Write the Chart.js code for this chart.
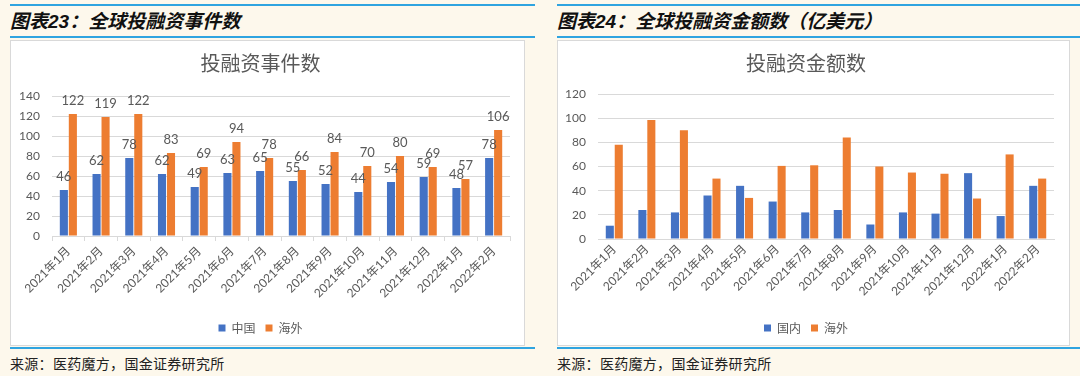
<!DOCTYPE html>
<html>
<head>
<meta charset="utf-8">
<script src="https://cdn.jsdelivr.net/npm/chart.js@4/dist/chart.umd.min.js"></script>
<style>
  html, body { margin: 0; padding: 0; }
  body { width: 1080px; height: 376px; background: #fdf8ec; position: relative; overflow: hidden;
         font-family: "Noto Sans CJK SC", sans-serif; }
  .line { position: absolute; height: 2px; background: #2fa4e0; }
  .head { position: absolute; top: 6px; font-size: 19px; font-weight: bold; font-style: italic; color: #111;
          font-family: "Liberation Sans", "Noto Sans CJK SC", sans-serif; white-space: nowrap; }
  .src { position: absolute; top: 353px; font-size: 14px; color: #222; letter-spacing: 0.3px; white-space: nowrap; }
  .box { position: absolute; top: 40px; height: 306px; background: #fff; border: 1px solid #d9d9d9;
         box-sizing: border-box; }
  .box canvas { display: block; }
</style>
</head>
<body>
<div class="line" style="left:10px; top:4px; width:525px;"></div>
<div class="line" style="left:557px; top:4px; width:523px;"></div>
<div class="head" style="left:10px;">图表23：全球投融资事件数</div>
<div class="head" style="left:557px;">图表24：全球投融资金额数（亿美元）</div>
<div class="line" style="left:10px; top:36px; width:525px;"></div>
<div class="line" style="left:557px; top:36px; width:523px;"></div>

<div class="box" style="left:10px; width:515px;"><canvas id="countChart"></canvas></div>
<div class="box" style="left:557px; width:513px;"><canvas id="amountChart"></canvas></div>

<div class="line" style="left:10px; top:347px; width:525px;"></div>
<div class="line" style="left:557px; top:347px; width:523px;"></div>
<div class="src" style="left:10px;">来源：医药魔方，国金证券研究所</div>
<div class="src" style="left:557px;">来源：医药魔方，国金证券研究所</div>

<script>
// months shared by both charts
const months = ['2021年1月', '2021年2月', '2021年3月', '2021年4月', '2021年5月', '2021年6月', '2021年7月',
    '2021年8月', '2021年9月', '2021年10月', '2021年11月', '2021年12月', '2022年1月', '2022年2月'];

// 图表23 投融资事件数
const countChina = [46, 62, 78, 62, 49, 63, 65, 55, 52, 44, 54, 59, 48, 78];
const countOverseas = [122, 119, 122, 83, 69, 94, 78, 66, 84, 70, 80, 69, 57, 106];
const countTicks = [0, 20, 40, 60, 80, 100, 120, 140];

// 图表24 投融资金额数（亿美元）
const amountDomestic = [11, 24, 22, 36, 44, 31, 22, 24, 12, 22, 21, 54.5, 19, 44];
const amountOverseas = [78, 98.5, 90, 50, 34, 60.5, 61, 84, 60, 55, 54, 33.5, 70, 50];
const amountTicks = [0, 20, 40, 60, 80, 100, 120];

const BLUE = '#4472c4';
const ORANGE = '#ed7d31';
const GREY = '#595959';
const GRID = '#d9d9d9';
const NUM_FONT = 'Lato, "Noto Sans CJK SC", sans-serif';

Chart.defaults.font.family = NUM_FONT;
Chart.defaults.color = GREY;

// value labels above the bars (only chart 23 has them)
const barLabels = {
    id: 'barLabels',
    afterDatasetsDraw(chart) {
        const ctx = chart.ctx;
        ctx.save();
        ctx.font = '13px ' + NUM_FONT;
        ctx.fillStyle = GREY;
        ctx.textAlign = 'center';
        ctx.textBaseline = 'middle';
        chart.data.datasets.forEach((ds, i) => {
            chart.getDatasetMeta(i).data.forEach((bar, j) => {
                ctx.fillText(ds.data[j], bar.x, bar.y - 13);
            });
        });
        ctx.restore();
    }
};

function makeChart(id, title, names, first, second, ticks, opts) {
    const ctx = document.getElementById(id);
    return new Chart(ctx, {
        type: 'bar',
        data: {
            labels: months,
            datasets: [
                { label: names[0], data: first, backgroundColor: BLUE, categoryPercentage: 0.55, barPercentage: 0.9 },
                { label: names[1], data: second, backgroundColor: ORANGE, categoryPercentage: 0.55, barPercentage: 0.9 }
            ]
        },
        options: {
            responsive: true,
            maintainAspectRatio: false,
            animation: false,
            layout: { padding: { right: opts.padRight, bottom: 1 } },
            plugins: {
                title: {
                    display: true,
                    text: title,
                    color: GREY,
                    font: { size: 20, weight: 'normal', family: '"Noto Sans CJK SC", sans-serif' },
                    padding: { top: 10, bottom: opts.titleGap }
                },
                legend: {
                    position: 'bottom',
                    labels: {
                        boxWidth: 7,
                        boxHeight: 7,
                        padding: 10,
                        color: GREY,
                        font: { size: 12, family: '"Noto Sans CJK SC", sans-serif' }
                    }
                },
                tooltip: { enabled: false }
            },
            scales: {
                x: {
                    grid: {
                        display: true,
                        drawOnChartArea: false,
                        drawTicks: opts.xTicks,
                        tickLength: 5,
                        color: GRID
                    },
                    border: { display: true, color: GRID },
                    ticks: { minRotation: 45, maxRotation: 45, autoSkip: false, font: { size: 12 }, color: GREY },
                    afterFit: (scale) => { scale.height = opts.xHeight; }
                },
                y: {
                    min: 0,
                    max: ticks[ticks.length - 1],
                    afterBuildTicks: (scale) => { scale.ticks = ticks.map(v => ({ value: v })); },
                    grid: { color: GRID, drawTicks: false },
                    border: { display: false },
                    ticks: { padding: 12, font: { size: 12 }, color: GREY },
                    afterFit: (scale) => { scale.width = opts.yWidth; }
                }
            }
        },
        plugins: opts.labels ? [barLabels] : []
    });
}

makeChart('countChart', '投融资事件数', ['中国', '海外'], countChina, countOverseas, countTicks,
    { padRight: 14, titleGap: 21, xHeight: 76, yWidth: 41, xTicks: true, labels: true });
makeChart('amountChart', '投融资金额数', ['国内', '海外'], amountDomestic, amountOverseas, amountTicks,
    { padRight: 15, titleGap: 19, xHeight: 73, yWidth: 40, xTicks: false, labels: false });
</script>
</body>
</html>
